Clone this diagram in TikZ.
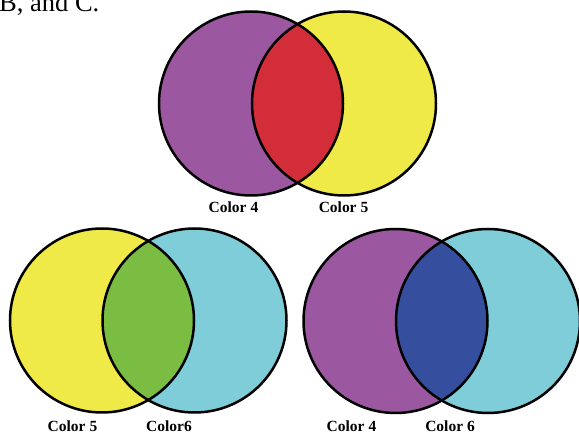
\documentclass[tikz,border=0pt]{standalone}
\usepackage{fontspec}
\setmainfont{Liberation Serif}
\definecolor{cpurple}{RGB}{155,88,160}
\definecolor{cyellow}{RGB}{240,234,72}
\definecolor{cred}{RGB}{212,45,58}
\definecolor{ccyan}{RGB}{128,205,218}
\definecolor{cgreen}{RGB}{122,189,66}
\definecolor{cblue}{RGB}{54,78,158}
\newcommand\vennpair[6]{%
  \fill[#4] (#1,#3) circle[radius=92pt];
  \fill[#5] (#2,#3) circle[radius=92pt];
  \begin{scope}
    \clip (#1,#3) circle[radius=92pt];
    \fill[#6] (#2,#3) circle[radius=92pt];
  \end{scope}
  \draw[ring] (#1,#3) circle[radius=92pt];
  \draw[ring] (#2,#3) circle[radius=92pt];
}
\begin{document}
\begin{tikzpicture}[x=1pt,y=-1pt,
  ring/.style={draw=black,line width=2.5pt},
  lbl/.style={font=\bfseries\fontsize{15.5}{18}\selectfont, inner sep=0pt, anchor=base}]
\useasboundingbox (0,0) rectangle (579,435);
\node[anchor=base west, inner sep=0pt, font=\fontsize{26.5}{30}\selectfont] (head) at (-1,11.5) {B, and C.};
\vennpair{251}{344}{103.5}{cpurple}{cyellow}{cred}
\vennpair{102}{194.5}{320.5}{cyellow}{ccyan}{cgreen}
\vennpair{395.5}{488}{321}{cpurple}{ccyan}{cblue}
\node[lbl] (t4) at (233.5,213) {Color 4};
\node[lbl] (t5) at (343.5,213) {Color 5};
\node[lbl] (b5) at (72.5,431.5) {Color 5};
\node[lbl] (b6) at (169,431.5) {Color6};
\node[lbl] (c4) at (351.5,431.5) {Color 4};
\node[lbl] (c6) at (450,431.5) {Color 6};
\end{tikzpicture}
\end{document}
